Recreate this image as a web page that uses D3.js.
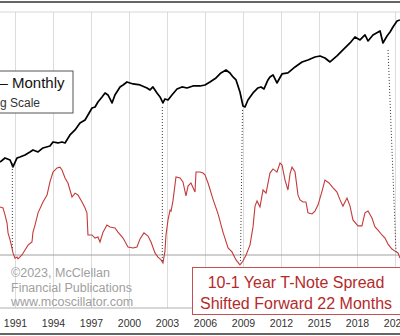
<!DOCTYPE html>
<html lang="en">
<head>
<meta charset="UTF-8">
<title>DJIA vs 10-1 Year T-Note Spread</title>
<style>
body { margin: 0; background: #fff; }
svg { display: block; font-family: "Liberation Sans", Arial, sans-serif; }
</style>
</head>
<body>
<div id="plot"></div>
<script src="https://cdn.jsdelivr.net/npm/d3@7"></script>
<script>

const w = 400,
      h = 336;

// DJIA monthly (log scale)
const djiaYears = [1989.82, 1990.21, 1990.61, 1990.84, 1991.16, 1991.39, 1991.79, 1992.18, 1992.42, 1992.82,
    1993.21, 1993.76, 1994.00, 1994.39, 1994.71, 1994.95, 1995.34, 1995.74, 1996.13, 1996.53,
    1996.76, 1997.08, 1997.32, 1997.55, 1997.87, 1998.11, 1998.34, 1998.66, 1998.89, 1999.29,
    1999.53, 1999.84, 2000.32, 2000.87, 2001.42, 2001.66, 2001.89, 2002.21, 2002.45, 2002.68,
    2002.84, 2003.08, 2003.39, 2003.79, 2004.18, 2004.58, 2005.05, 2005.61, 2006.00, 2006.39,
    2006.87, 2007.26, 2007.66, 2007.97, 2008.21, 2008.45, 2008.76, 2009.00, 2009.16, 2009.39,
    2009.79, 2010.18, 2010.42, 2010.66, 2010.97, 2011.13, 2011.37, 2011.68, 2012.08, 2012.55,
    2013.11, 2013.66, 2014.13, 2014.68, 2015.08, 2015.47, 2015.87, 2016.42, 2016.89, 2017.45,
    2017.84, 2018.24, 2018.63, 2018.87, 2019.26, 2019.82, 2020.05, 2020.37, 2020.61, 2020.84,
    2021.16, 2021.39];
const djiaValues = [2535, 2730, 2631, 2311, 2730, 2782, 2886, 3051, 3166, 3051,
    3286, 3410, 3672, 3605, 3672, 3605, 4181, 4586, 5220, 5519,
    6054, 6891, 7021, 7702, 8449, 9099, 8767, 7560, 8767, 10169,
    10552, 11154, 10749, 10552, 9981, 9619, 10169, 9099, 8449, 7560,
    8142, 7993, 8767, 9798, 10169, 9981, 10358, 10358, 10552, 11154,
    12012, 13177, 13930, 13177, 12236, 11576, 9269, 7152, 7021, 7993,
    9099, 9981, 10169, 9798, 11576, 12236, 12699, 10950, 12935, 13177,
    14726, 16155, 16763, 17722, 18053, 17396, 16155, 18053, 20175, 22967,
    25665, 24279, 26634, 23833, 26634, 28682, 22967, 26145, 28155, 30888,
    34517, 35162];

// 10-1 year T-Note spread (%), shifted forward 22 months
const spreadYears = [1989.82, 1990.05, 1990.21, 1990.37, 1990.45, 1990.61, 1990.76, 1990.84, 1991.00, 1991.16,
    1991.24, 1991.55, 1991.79, 1992.03, 1992.34, 1992.42, 1992.58, 1992.82, 1993.21, 1993.53,
    1993.76, 1994.00, 1994.32, 1994.55, 1994.71, 1994.95, 1995.18, 1995.50, 1995.74, 1995.97,
    1996.29, 1996.53, 1996.68, 1996.76, 1997.08, 1997.32, 1997.55, 1997.71, 1997.95, 1998.26,
    1998.50, 1998.89, 1999.13, 1999.53, 1999.92, 2000.32, 2000.63, 2000.87, 2001.18, 2001.50,
    2001.74, 2002.05, 2002.29, 2002.53, 2002.68, 2002.84, 2002.92, 2003.08, 2003.24, 2003.32,
    2003.47, 2003.71, 2004.03, 2004.26, 2004.50, 2004.66, 2004.89, 2005.21, 2005.29, 2005.61,
    2005.84, 2006.00, 2006.24, 2006.63, 2007.03, 2007.42, 2007.82, 2008.13, 2008.45, 2008.76,
    2009.00, 2009.24, 2009.55, 2009.79, 2009.95, 2010.11, 2010.34, 2010.58, 2010.82, 2011.13,
    2011.37, 2011.68, 2011.92, 2012.08, 2012.32, 2012.55, 2012.71, 2012.87, 2013.11, 2013.34,
    2013.50, 2013.74, 2013.97, 2014.13, 2014.45, 2014.68, 2014.92, 2015.24, 2015.47, 2015.79,
    2016.11, 2016.42, 2016.66, 2016.89, 2017.21, 2017.45, 2017.68, 2018.08, 2018.39, 2018.63,
    2018.87, 2019.18, 2019.42, 2019.66, 2019.97, 2020.21, 2020.45, 2020.76, 2021.00, 2021.24,
    2021.39];
const spreadValues = [1.85, 1.81, 1.54, 1.23, 0.85, 0.58, 0.27, 0.08, -0.12, -0.08,
    -0.15, 0.00, 0.19, 0.38, 0.50, 0.88, 1.15, 1.62, 2.04, 2.31,
    2.81, 3.19, 3.35, 3.38, 3.27, 2.96, 2.77, 2.23, 2.38, 2.31,
    2.04, 1.81, 1.62, 0.77, 0.77, 0.65, 0.69, 0.50, 0.88, 1.15,
    1.08, 1.04, 0.88, 0.65, 0.31, 0.27, 0.31, 0.62, 0.85, 0.73,
    0.50, 0.08, -0.08, -0.19, -0.31, 0.15, 0.77, 1.35, 1.73, 1.69,
    2.08, 3.00, 2.96, 2.81, 2.27, 2.65, 2.77, 2.42, 3.19, 3.19,
    3.15, 3.08, 2.77, 2.15, 1.58, 0.88, 0.27, 0.12, -0.19, -0.38,
    -0.23, 0.00, 0.38, 1.08, 1.88, 2.08, 1.85, 2.50, 2.38, 3.15,
    3.31, 3.19, 3.54, 3.46, 2.88, 2.50, 3.12, 3.38, 3.19, 2.31,
    2.12, 2.04, 2.04, 1.62, 1.58, 1.69, 1.92, 2.46, 2.88, 2.77,
    2.58, 2.42, 2.12, 1.88, 2.19, 1.88, 1.35, 1.12, 1.12, 1.62,
    1.69, 1.42, 1.08, 0.96, 0.77, 0.65, 0.42, 0.23, 0.15, 0.08,
    -0.12];

// dotted connectors: [djia year, djia value, spread year, spread value]
const lowLinks = [
    [1990.79, 2489, 1990.79, 0.19],
    [2002.63, 7021, 2002.63, -0.23],
    [2008.96, 6642, 2008.80, -0.27],
    [2020.45, 20175, 2021.08, 0.12]
];

const tickYears = [1991, 1994, 1997, 2000, 2003, 2006, 2009, 2012, 2015, 2018, 2021];

const plotTop = 12,
      plotBottom = 308;

const x = d3.scaleLinear().domain([1991, 2021]).range([15, 395]);
const yDjia = d3.scaleLog().domain([1000, 40000]).range([212.2, 13]);
const ySpread = d3.scaleLinear().domain([0, 3.5]).range([255, 164]);

const svg = d3.select("#plot").append("svg")
    .attr("width", w)
    .attr("height", h);

// vertical grid
svg.append("g")
    .attr("transform", `translate(0,${plotBottom})`)
    .call(d3.axisBottom(x).tickValues(tickYears).tickSize(-(plotBottom - plotTop)).tickFormat(""))
    .call(g => g.select(".domain").remove())
    .call(g => g.selectAll("line").attr("stroke", "#dcdcdc"));

// horizontal frame lines
svg.append("line").attr("x1", 0).attr("x2", w).attr("y1", plotTop).attr("y2", plotTop)
    .attr("stroke", "#d6d6d6");
svg.append("line").attr("x1", 0).attr("x2", w).attr("y1", plotBottom).attr("y2", plotBottom)
    .attr("stroke", "#b0b0b0");
svg.append("line").attr("x1", 0).attr("x2", w).attr("y1", ySpread(0)).attr("y2", ySpread(0))
    .attr("stroke", "#a0a0a0");

// outer dark borders
svg.append("line").attr("x1", 0).attr("x2", w).attr("y1", 2).attr("y2", 2)
    .attr("stroke", "#333").attr("stroke-width", 1.5);
svg.append("line").attr("x1", 0).attr("x2", w).attr("y1", 334).attr("y2", 334)
    .attr("stroke", "#333").attr("stroke-width", 1.5);

// x axis labels
svg.append("g")
    .attr("transform", `translate(0,${plotBottom})`)
    .call(d3.axisBottom(x).tickValues(tickYears).tickSize(0).tickFormat(d3.format("d")))
    .call(g => g.select(".domain").remove())
    .call(g => g.selectAll("text")
        .attr("y", 19).attr("dy", null)
        .attr("fill", "#333")
        .style("font-size", "10.5px")
        .style("font-family", "'Liberation Sans', Arial, sans-serif"));

// copyright
const copy = svg.append("text")
    .attr("fill", "#a0a0a0")
    .style("font-size", "12.5px");
["©2023, McClellan", "Financial Publications", "www.mcoscillator.com"].forEach((t, i) => {
    copy.append("tspan").attr("x", 11).attr("y", 277 + i * 14.5).text(t);
});

// spread line
const spreadData = spreadYears.map((d, i) => [d, spreadValues[i]]);
svg.append("path")
    .datum(spreadData)
    .attr("d", d3.line().x(d => x(d[0])).y(d => ySpread(d[1])))
    .attr("fill", "none")
    .attr("stroke", "#c43a3a")
    .attr("stroke-width", 1.1);

// djia line
const djiaData = djiaYears.map((d, i) => [d, djiaValues[i]]);
svg.append("path")
    .datum(djiaData)
    .attr("d", d3.line().x(d => x(d[0])).y(d => yDjia(d[1])))
    .attr("fill", "none")
    .attr("stroke", "#000")
    .attr("stroke-width", 1.7)
    .attr("stroke-linejoin", "round");

// dotted low connectors
svg.selectAll(".link")
    .data(lowLinks)
    .join("line")
    .attr("class", "link")
    .attr("x1", d => x(d[0])).attr("y1", d => yDjia(d[1]))
    .attr("x2", d => x(d[2])).attr("y2", d => ySpread(d[3]))
    .attr("stroke", "#333")
    .attr("stroke-width", 1)
    .attr("stroke-dasharray", "1,2");

// legend box top-left
svg.append("rect")
    .attr("x", -10).attr("y", 71).attr("width", 83).attr("height", 42)
    .attr("fill", "#fff").attr("stroke", "#555");
svg.append("text")
    .attr("x", 64.5).attr("y", 88).attr("text-anchor", "end")
    .style("font-size", "15px").attr("fill", "#111")
    .text("DJIA – Monthly");
svg.append("text")
    .attr("x", 40).attr("y", 107).attr("text-anchor", "end")
    .style("font-size", "12px").attr("fill", "#333")
    .text("Log Scale");

// spread label box
svg.append("rect")
    .attr("x", 192.5).attr("y", 267.5).attr("width", 220).attr("height", 47)
    .attr("fill", "#fff").attr("stroke", "#c45050");
const lab = svg.append("text")
    .attr("text-anchor", "middle")
    .attr("fill", "#b52a2a")
    .style("font-size", "16px");
lab.append("tspan").attr("x", 296).attr("y", 288).text("10-1 Year T-Note Spread");
lab.append("tspan").attr("x", 296).attr("y", 309).text("Shifted Forward 22 Months");

</script>
</body>
</html>
